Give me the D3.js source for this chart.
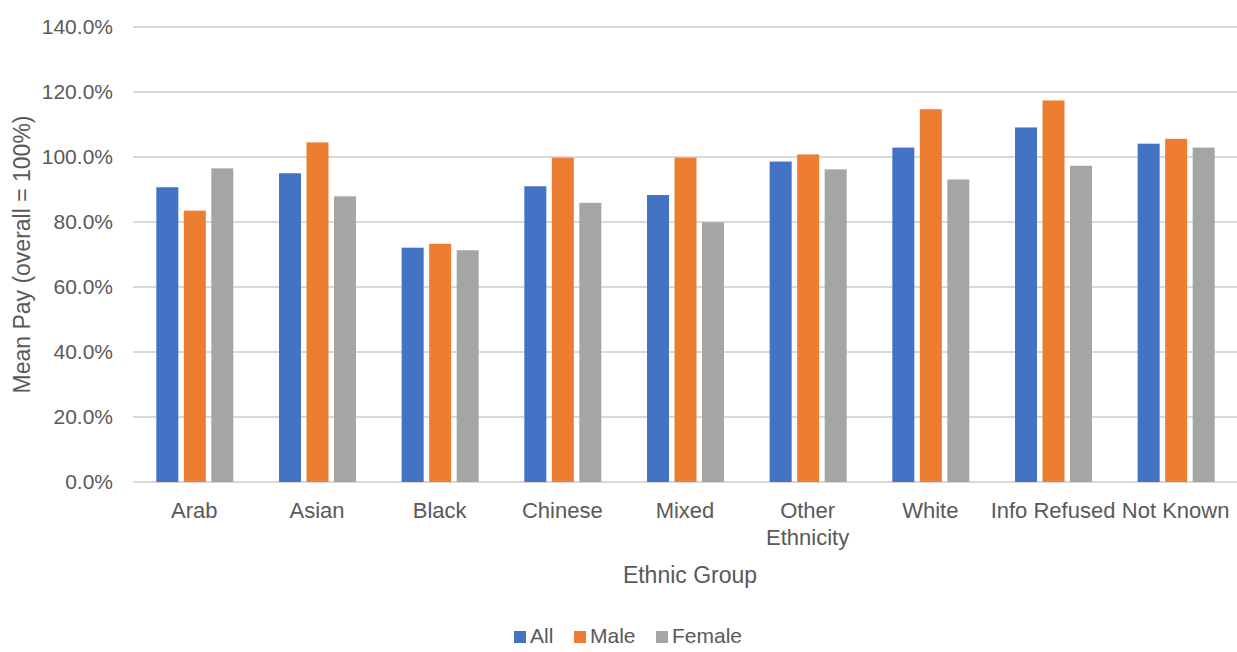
<!DOCTYPE html>
<html>
  <head>
    <meta charset="utf-8">
    <script src="https://d3js.org/d3.v7.min.js"></script>
    <style>
      body { margin: 0; background: white; }
      text { font-family: "Liberation Sans Narrow", "Arial Narrow", sans-serif; fill: #595959; }
    </style>
  </head>
  <body>
    <div id="chart"></div>
    <script>
      // data (% of overall mean pay)
      const groups = ['Arab', 'Asian', 'Black', 'Chinese', 'Mixed', 'Other Ethnicity', 'White', 'Info Refused', 'Not Known']
      const series = ['All', 'Male', 'Female']
      const allPay    = [90.7, 95.0, 72.1, 91.0, 88.3, 98.6, 102.9, 109.1, 104.1]
      const malePay   = [83.5, 104.5, 73.3, 99.8, 99.8, 100.8, 114.7, 117.4, 105.6]
      const femalePay = [96.5, 87.9, 71.3, 85.9, 79.9, 96.2, 93.1, 97.3, 102.9]
      const yTicks = [0, 20, 40, 60, 80, 100, 120, 140]
      const colors = ['#4472C4', '#ED7D31', '#A5A5A5']

      const W = 1237, H = 652
      const margin = {top: 27, right: 0, bottom: 170, left: 133}

      const svg = d3.select('#chart').append('svg')
        .attr('width', W).attr('height', H)

      const rows = groups.map((g, i) => ({group: g, values: [allPay[i], malePay[i], femalePay[i]]}))

      const x0 = d3.scaleBand().domain(groups).range([margin.left, W - margin.right])
      const x1 = d3.scaleBand().domain(series)
        .range([x0.bandwidth() / 2 - 38, x0.bandwidth() / 2 + 39])
        .paddingInner(0.2)
      const y = d3.scaleLinear().domain([0, 140]).range([H - margin.bottom, margin.top])

      // gridlines
      svg.append('g').selectAll('line')
        .data(yTicks)
        .join('line')
          .attr('x1', margin.left).attr('x2', W - margin.right)
          .attr('y1', d => y(d)).attr('y2', d => y(d))
          .attr('stroke', '#D9D9D9').attr('stroke-width', 2)

      // y tick labels
      svg.append('g').selectAll('text')
        .data(yTicks)
        .join('text')
          .attr('x', 113).attr('y', d => y(d))
          .attr('dy', '0.35em')
          .attr('text-anchor', 'end')
          .style('font-size', '21px')
          .text(d => d.toFixed(1) + '%')

      // bars
      svg.append('g').selectAll('g')
        .data(rows)
        .join('g')
          .attr('transform', d => `translate(${x0(d.group)},0)`)
        .selectAll('rect')
        .data(d => d.values.map((v, j) => ({key: series[j], value: v, idx: j})))
        .join('rect')
          .attr('x', d => x1(d.key))
          .attr('width', x1.bandwidth())
          .attr('y', d => y(d.value))
          .attr('height', d => y(0) - y(d.value))
          .attr('fill', d => colors[d.idx])

      // category labels
      const catLabels = svg.append('g').selectAll('text')
        .data(groups)
        .join('text')
          .attr('x', d => x0(d) + x0.bandwidth() / 2)
          .attr('y', 518)
          .attr('text-anchor', 'middle')
          .style('font-size', '22px')
      catLabels.each(function (d) {
        const words = d === 'Other Ethnicity' ? ['Other', 'Ethnicity'] : [d]
        d3.select(this).selectAll('tspan')
          .data(words)
          .join('tspan')
            .attr('x', x0(d) + x0.bandwidth() / 2)
            .attr('dy', (w, i) => i === 0 ? 0 : 27)
            .text(w => w)
      })

      // axis titles
      svg.append('text')
        .attr('x', (margin.left + W) / 2 + 5).attr('y', 583)
        .attr('text-anchor', 'middle')
        .style('font-size', '23px')
        .text('Ethnic Group')

      svg.append('text')
        .attr('transform', `translate(30,${y(70)}) rotate(-90)`)
        .attr('text-anchor', 'middle')
        .style('font-size', '23px')
        .text('Mean Pay (overall = 100%)')

      // legend
      const legendX = [514, 574, 656]
      const legend = svg.append('g').selectAll('g')
        .data(series)
        .join('g')
          .attr('transform', (d, i) => `translate(${legendX[i]},636)`)
      legend.append('rect')
        .attr('x', 0).attr('y', -5).attr('width', 12).attr('height', 12)
        .attr('fill', (d, i) => colors[i])
      legend.append('text')
        .attr('x', 16).attr('y', 0).attr('dy', '0.35em')
        .style('font-size', '21px')
        .text(d => d)
    </script>
  </body>
</html>
